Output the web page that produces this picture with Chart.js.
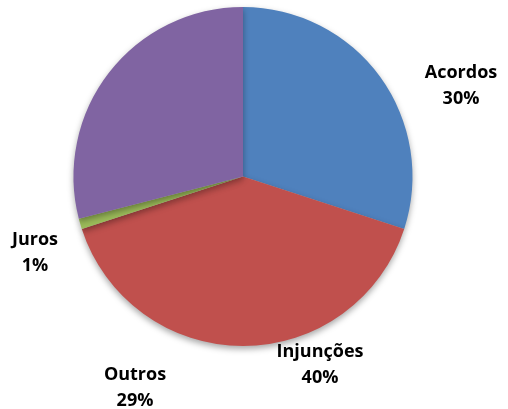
<!DOCTYPE html>
<html>
<head>
<meta charset="utf-8">
<script src="https://cdn.jsdelivr.net/npm/chart.js@4"></script>
<style>
  body { margin: 0; background: #fff; }
  #caixa { width: 508px; height: 409px; }
</style>
</head>
<body>
<div id="caixa"><canvas id="grafico_pizza"></canvas></div>
<script>
var categorias = ['Acordos', 'Injunções', 'Juros', 'Outros'];
var valores = [30, 40, 1, 29];
var cores = ['#4F81BD', '#C0504D', '#9BBB59', '#8064A2'];

// posicao dos rotulos como no original (centro do texto)
var posRotulos = [[461, 86], [320, 365], [35, 253], [135, 388]];

const rotulos = {
    id: 'rotulos',
    beforeDatasetsDraw(chart) {
        const ctx = chart.ctx;
        ctx.save();
        ctx.shadowColor = 'rgba(0,0,0,0.35)';
        ctx.shadowBlur = 6;
        ctx.shadowOffsetY = 3;
    },
    afterDatasetsDraw(chart) {
        const ctx = chart.ctx;
        ctx.restore();
        ctx.save();
        ctx.fillStyle = '#000';
        ctx.font = 'bold 18px "Open Sans", Lato, sans-serif';
        ctx.textAlign = 'center';
        ctx.textBaseline = 'middle';
        for (var i = 0; i < categorias.length; i++) {
            var p = posRotulos[i];
            ctx.fillText(categorias[i], p[0], p[1] - 13);
            ctx.fillText(valores[i] + '%', p[0], p[1] + 13);
        }
        ctx.restore();
    }
};

new Chart(document.getElementById('grafico_pizza'), {
    type: 'pie',
    data: {
        labels: categorias,
        datasets: [{
            data: valores,
            backgroundColor: cores,
            borderWidth: 0
        }]
    },
    options: {
        responsive: true,
        maintainAspectRatio: false,
        animation: false,
        layout: { padding: { left: 73, right: 95, top: 7, bottom: 63 } },
        plugins: {
            legend: { display: false },
            tooltip: { enabled: false }
        }
    },
    plugins: [rotulos]
});
</script>
</body>
</html>
